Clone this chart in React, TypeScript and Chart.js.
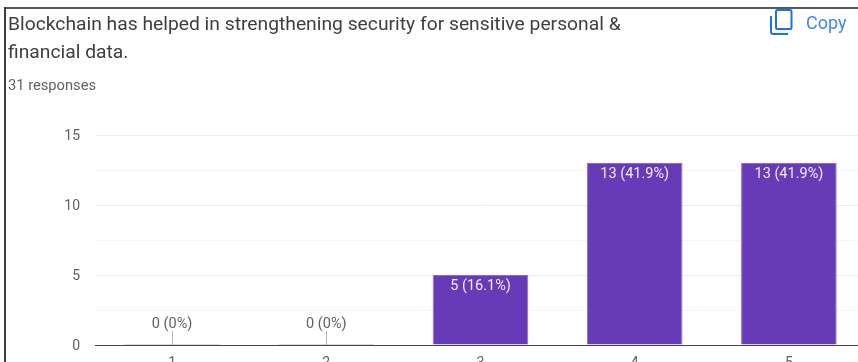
import React, { useEffect, useRef } from "react";
import { Chart, registerables } from "chart.js";

Chart.register(...registerables);

const categories = ["1", "2", "3", "4", "5"];
const responses = [0, 0, 5, 13, 13];
const shares = ["0%", "0%", "16.1%", "41.9%", "41.9%"];
const yLabels = [0, 5, 10, 15];
const titleLines = [
  "Blockchain has helped in strengthening security for sensitive personal &",
  "financial data.",
];
const responseNote = "31 responses";

const BAR_COLOR = "#673ab7";
const FONT = "Roboto, sans-serif";

// Writes "n (p%)" for each bar: inside the bar's top, or above a stem when the bar is empty.
const valueLabels = {
  id: "valueLabels",
  afterDatasetsDraw(chart: any) {
    const { ctx, scales } = chart;
    const meta = chart.getDatasetMeta(0);
    ctx.save();
    ctx.font = `14.5px ${FONT}`;
    ctx.textAlign = "center";
    ctx.textBaseline = "middle";
    meta.data.forEach((bar: any, i: number) => {
      const text = `${responses[i]} (${shares[i]})`;
      if (responses[i] === 0) {
        const base = scales.y.getPixelForValue(0);
        const x = Math.round(bar.x) + 0.5;
        ctx.strokeStyle = "#b5b5b5";
        ctx.lineWidth = 1;
        ctx.beginPath();
        ctx.moveTo(x, base - 14);
        ctx.lineTo(x, base);
        ctx.stroke();
        ctx.fillStyle = "#5f6368";
        ctx.fillText(text, bar.x, base - 20.5);
      } else {
        ctx.fillStyle = "#f1ecf8";
        ctx.fillText(text, bar.x, bar.y + 11);
      }
    });
    ctx.restore();
  },
};

export default function App() {
  const canvasRef = useRef<HTMLCanvasElement>(null);

  useEffect(() => {
    document.body.style.margin = "0";
    const chart = new Chart(canvasRef.current!, {
      type: "bar",
      data: {
        labels: categories,
        datasets: [
          {
            data: responses,
            backgroundColor: BAR_COLOR,
            borderColor: "#8e6cca",
            borderWidth: 1,
            barPercentage: 0.62,
            categoryPercentage: 1,
            minBarLength: 1,
          },
        ],
      },
      options: {
        animation: false,
        responsive: false,
        layout: { padding: { top: 135, left: 0, right: 0, bottom: 0 } },
        plugins: { legend: { display: false }, tooltip: { enabled: false } },
        scales: {
          x: {
            afterFit: (scale: any) => {
              scale.height = 35;
            },
            grid: { display: false },
            border: { color: "#444444", width: 1 },
            ticks: { color: "#5f6368", font: { family: FONT, size: 14 }, padding: 2 },
          },
          y: {
            min: 0,
            max: 15,
            afterFit: (scale: any) => {
              scale.width = 95;
            },
            border: { display: false },
            grid: {
              drawTicks: false,
              color: (c: any) =>
                c.tick.value === 0
                  ? "#444444"
                  : yLabels.includes(c.tick.value)
                    ? "#ebebeb"
                    : "#f5f5f5",
            },
            ticks: {
              stepSize: 2.5,
              autoSkip: false,
              maxRotation: 0,
              color: "#5f6368",
              padding: 15,
              labelOffset: 1,
              font: { family: FONT, size: 14 },
              callback: (v: any) => (yLabels.includes(Number(v)) ? String(v) : ""),
            },
          },
        },
      },
      plugins: [valueLabels],
    } as any);
    return () => chart.destroy();
  }, []);

  return (
    <div
      style={{
        position: "fixed",
        left: 0,
        top: 0,
        width: 858,
        height: 362,
        overflow: "hidden",
        background: "#fff",
        fontFamily: FONT,
      }}
    >
      <canvas
        ref={canvasRef}
        width={866}
        height={380}
        style={{ position: "absolute", left: 0, top: 0, display: "block" }}
      />
      <div style={{ position: "absolute", left: 4, top: 7, width: 854, height: 2, background: "#5a5a5a" }} />
      <div style={{ position: "absolute", left: 4, top: 7, width: 2, height: 355, background: "#3f3f3f" }} />
      {titleLines.map((line, i) => (
        <div
          key={line}
          style={{
            position: "absolute",
            left: 8,
            top: 10 + i * 28,
            fontSize: 19.27,
            lineHeight: "28px",
            whiteSpace: "nowrap",
            color: "#3c4043",
          }}
        >
          {line}
        </div>
      ))}
      <div
        style={{
          position: "absolute",
          left: 8,
          top: 76,
          fontSize: 14.7,
          lineHeight: "18px",
          color: "#5f6368",
        }}
      >
        {responseNote}
      </div>
      <svg
        width="26"
        height="28"
        viewBox="0 0 26 28"
        style={{ position: "absolute", left: 769, top: 8 }}
        fill="none"
        stroke="#1a73e8"
        strokeWidth="2"
      >
        <rect x="7" y="2" width="15.5" height="19" rx="1.5" />
        <path d="M2 8 V23.5 Q2 26 4.5 26 H19" />
      </svg>
      <div
        style={{
          position: "absolute",
          left: 806,
          top: 12,
          fontSize: 18,
          lineHeight: "22px",
          color: "#4285f4",
        }}
      >
        Copy
      </div>
    </div>
  );
}
